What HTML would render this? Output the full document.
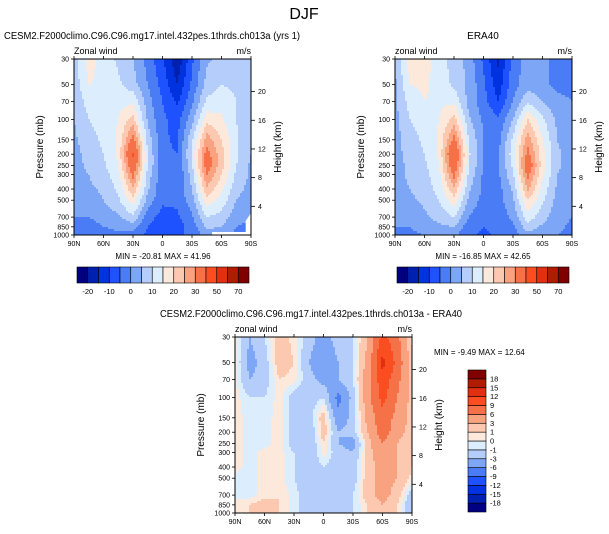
<!DOCTYPE html>
<html><head><meta charset="utf-8">
<style>
html,body{margin:0;padding:0;background:#fff;}
svg{display:block;font-family:"Liberation Sans",sans-serif;}
</style></head>
<body>
<svg id="fig" width="609" height="534" viewBox="0 0 609 534" xmlns="http://www.w3.org/2000/svg">
<text x="304" y="19" font-size="16" text-anchor="middle">DJF</text>
<g id="root"></g>
</svg>
<script>
// ---- data ----
const latLabels = ["90N","75N","60N","45N","30N","15N","0","15S","30S","45S","60S","75S","90S"];
const pressureLevels = [30,50,70,100,150,200,250,300,400,500,700,850,1000];
const pressureTicks = [30,50,70,100,150,200,250,300,400,500,700,850,1000];
const latTicks = ["90N","60N","30N","0","30S","60S","90S"];
const heightTicks = [4,8,12,16,20];
const windLevels = [-20,-15,-10,-5,0,5,10,15,20,25,30,40,50,60,70];
const windLevelLabels = ["-20","-10","0","10","20","30","50","70"];
const diffLevels = [-18,-15,-12,-9,-6,-3,-1,0,1,3,6,9,12,15,18];
const modelWind = [
[8,17,13,9,5,-2,-9,-19,-6,4,7,7,6],
[7,15,14,11,7,0,-7,-15,-4,7,10,9,7],
[6,12,14,13,14,2,-5,-11,-1,11,13,10,7],
[5,10,12,15,22,4,-4,-7,3,18,16,10,6],
[4,8,11,16,33,8,-4,-6,9,28,20,11,5],
[3,7,10,16,41,10,-4,-5,11,33,22,11,5],
[3,6,9,15,36,10,-4,-5,9,34,22,10,4],
[3,5,8,13,32,8,-4,-5,7,30,20,9,4],
[2,4,6,11,24,6,-4,-4,5,24,16,7,3],
[1,2,5,9,18,3,-4,-4,3,18,13,5,2],
[0,0,2,4,9,-3,-7,-6,-1,10,8,2,0],
[-1,-2,0,1,2,-5,-8,-7,-3,6,5,0,-1],
[-2,-2,-2,-1,-2,-6,-8,-6,-4,2,2,-1,-2]];
const eraWind = [
[5,18,17,12,8,3,-6,-16,-3,2,1,-1,-1],
[4,15,16,13,9,4,-4,-13,-2,3,1,-1,-1],
[4,12,15,14,14,3,-3,-10,0,9,5,1,0],
[3,10,12,15,22,6,-1,-4,5,20,11,4,1],
[3,8,11,16,32,10,0,-2,11,28,15,5,2],
[3,7,10,16,40,11,0,-1,13,32,17,6,2],
[3,6,9,15,36,10,0,-1,11,36,17,6,2],
[3,6,8,14,32,9,-1,-1,9,32,16,5,2],
[3,5,7,12,24,6,-1,-2,6,26,13,4,2],
[2,4,6,10,18,4,-2,-2,4,20,11,3,1],
[1,2,4,7,10,0,-4,-3,1,13,7,2,0],
[0,0,2,4,5,-3,-5,-4,-1,8,4,1,-1],
[-2,-1,0,1,1,-4,-6,-4,-3,3,2,0,-1]];
const diffWind = [
[0.5,-3,-1,2,0.5,-2,-4,-2,-1,3,10,7,0.5],
[0.5,-4,-2,2,1,-3,-5,-3,-1,4,13,8,2],
[0.5,-3,-2,1,0.5,-2,-4,-3,-1,5,11,7,2],
[0.5,-1,-1,0.5,-2,-2,-1,-7,-2,5,10,6,2],
[0.5,-0.5,-0.5,0.5,-2,-2,2,-5,-2,4,8,5,2],
[0.5,-0.5,-0.5,0.5,-2,-3,2,-3,-2,3,8,4,2],
[0.5,-0.5,-0.5,0.5,-2,-3,1,-3,-4,2,6,3,1],
[0.5,-0.5,0.5,0.5,-1,-3,0.5,-2,-3,2,5,3,1],
[0.5,-0.5,0.5,0.5,-1,-2,-1,-2,-2,2,4,3,1],
[-0.5,-0.5,0.5,0.5,-1,-2,-2,-2,-2,2,4,3,0.5],
[-0.5,-0.5,0.5,1,-0.5,-2,-2,-2,-1,2,4,2,-2],
[0.5,1,2,1,-0.5,-2,-2,-2,-1,1,3,1,-3],
[0.5,1,2,1,-0.5,-2,-2,-1,-1,1,3,1,-3]];

const palette = ['#000080','#0020b0','#0032e0','#1f52ff','#4a7cf5','#7ea6f7','#b5cdfa','#dceefd','#fde8dc','#fcc8b0','#f9a280','#f57248','#fa4e20','#e03010','#b01c00','#800000'];
const NS="http://www.w3.org/2000/svg";
const root=document.getElementById('root');
function el(tag,attrs,parent,text){const e=document.createElementNS(NS,tag);for(const k in attrs)e.setAttribute(k,attrs[k]);if(text!==undefined)e.textContent=text;(parent||root).appendChild(e);return e;}
const H=7;
function colorIdx(v,levels){let i=0;while(i<levels.length&&v>=levels[i])i++;return i;}
function panel(cfg){
  const {x0,y0,w,h,data,levels,name}=cfg;
  const g=el('g',{});
  
  
  const lp0=Math.log(1000),lpT=Math.log(30);
  const yOfP=p=>y0+h*(Math.log(p)-lpT)/(lp0-lpT);
  const lpl=pressureLevels.map(p=>Math.log(p));
  function sample(px,py){
    const fi=Math.max(0,Math.min(latLabels.length-1,(px-x0)/w*(latLabels.length-1)));
    const lp=lpT+(py-y0)/h*(lp0-lpT);
    let j=0;while(j<lpl.length-2&&lp>lpl[j+1])j++;
    let fj=j+(lp-lpl[j])/(lpl[j+1]-lpl[j]);
    fj=Math.max(0,Math.min(lpl.length-1,fj));
    const i0=Math.min(latLabels.length-2,Math.floor(fi)),ti=fi-i0;
    const j0=Math.min(lpl.length-2,Math.floor(fj)),tj=fj-j0;
    const a=data[j0][i0],b=data[j0][i0+1],c=data[j0+1][i0],d=data[j0+1][i0+1];
    return (a*(1-ti)+b*ti)*(1-tj)+(c*(1-ti)+d*ti)*tj;
  }
  const cells=el('g',{'shape-rendering':'crispEdges'},g);
  const s=2;
  for(let y=0;y<h;y+=s){
    let runStart=0,runC=-1;
    for(let x=0;;x+=s){
      const end=x>=w;
      const c=end?-2:colorIdx(sample(x0+x+1,y0+y+1),levels);
      if(c!==runC){
        if(runC>=0){const r=el('rect',{x:x0+runStart,y:y0+y,width:Math.min(x,w)-runStart,height:Math.min(s,h-y),fill:palette[runC]},cells);
          
          }
        runStart=x;runC=c;
      }
      if(end)break;
    }
  }
  if(cfg.mask){
    const m=el('path',{d:`M${x0+w*0.78} ${y0+h} L${x0+w*0.78} ${y0+h-3} L${x0+w*0.97} ${y0+h-3} L${x0+w*0.97} ${y0+h-14} L${x0+w} ${y0+h-22} L${x0+w} ${y0+h} Z`,fill:'#fff'},g);
    
    
  }
  el('rect',{x:x0,y:y0,width:w,height:h,fill:'none',stroke:'#000','stroke-width':1},g);
  pressureTicks.forEach(p=>{const y=yOfP(p);
    el('line',{x1:x0-3,x2:x0,y1:y,y2:y,stroke:'#000','stroke-width':0.8},g);
    const t=el('text',{x:x0-5,y:y+2.5,'font-size':7,'text-anchor':'end'},g,String(p));
    
    });
  latTicks.forEach((lab,k)=>{const x=x0+w*k/(latTicks.length-1);
    el('line',{x1:x,x2:x,y1:y0+h,y2:y0+h+3,stroke:'#000','stroke-width':0.8},g);
    el('line',{x1:x,x2:x,y1:y0,y2:y0-3,stroke:'#000','stroke-width':0.8},g);
    const t=el('text',{x:x,y:y0+h+11,'font-size':7,'text-anchor':'middle'},g,lab);
    
    });
  heightTicks.forEach(z=>{const y=yOfP(1000*Math.exp(-z/H));
    el('line',{x1:x0+w,x2:x0+w+4,y1:y,y2:y,stroke:'#000','stroke-width':0.8},g);
    const t=el('text',{x:x0+w+7,y:y+2.5,'font-size':7},g,String(z));
    
    });
  const yl=el('text',{x:0,y:0,'font-size':10,'text-anchor':'middle',transform:`translate(${x0-31},${y0+h/2}) rotate(-90)`},g,'Pressure (mb)');
  
  
  const yr=el('text',{x:0,y:0,'font-size':10,'text-anchor':'middle',transform:`translate(${x0+w+30},${y0+h/2}) rotate(-90)`},g,'Height (km)');
  
  
  const lt=el('text',{x:x0,y:y0-5,'font-size':9},g,cfg.left);
  
  
  const rt=el('text',{x:x0+w,y:y0-5,'font-size':9,'text-anchor':'end'},g,'m/s');
  
  
}
function hbar(x0,y0,w,h,name,minmax,cx){
  const g=el('g',{});
  
  
  const bw=w/palette.length;
  palette.forEach((c,i)=>{const r=el('rect',{x:x0+i*bw,y:y0,width:bw,height:h,fill:c,stroke:'#000','stroke-width':0.6},g);
    
    });
  windLevelLabels.forEach(lab=>{const k=windLevels.indexOf(Number(lab));
    const t=el('text',{x:x0+(k+1)*bw,y:y0+h+11,'font-size':7.5,'text-anchor':'middle'},g,lab);
    
    });
  const m=el('text',{x:cx,y:y0-8,'font-size':8,'text-anchor':'middle'},g,minmax);
  
  
}
let t=el('text',{x:4,y:39,'font-size':10,textLength:296,lengthAdjust:'spacingAndGlyphs'},root,'CESM2.F2000climo.C96.C96.mg17.intel.432pes.1thrds.ch013a (yrs 1)');


t=el('text',{x:483,y:39,'font-size':10,'text-anchor':'middle'},root,'ERA40');


t=el('text',{x:160,y:317,'font-size':10,textLength:302,lengthAdjust:'spacingAndGlyphs'},root,'CESM2.F2000climo.C96.C96.mg17.intel.432pes.1thrds.ch013a - ERA40');



panel({x0:74,y0:59,w:177,h:176,data:modelWind,levels:windLevels,name:'model-panel',left:'Zonal wind',mask:true});
panel({x0:395,y0:59,w:177,h:176,data:eraWind,levels:windLevels,name:'era40-panel',left:'zonal wind'});
panel({x0:235,y0:337,w:177,h:176,data:diffWind,levels:diffLevels,name:'difference-panel',left:'zonal wind'});
hbar(77,267,172,16,'model-colorbar','MIN = -20.81  MAX =  41.96',163);
hbar(397,267,172,16,'era40-colorbar','MIN = -16.85  MAX =  42.65',483);
(function(){
  const g=el('g',{});
  
  
  const x0=468,y0=370,w=18,h=142,bh=h/palette.length;
  palette.forEach((c,i)=>{const r=el('rect',{x:x0,y:y0+h-(i+1)*bh,width:w,height:bh,fill:c,stroke:'#000','stroke-width':0.6},g);
    
    });
  diffLevels.forEach((v,k)=>{const y=y0+h-(k+1)*bh;
    const tt=el('text',{x:x0+w+4,y:y+2.5,'font-size':7.5},g,String(v));
    
    });
  const m=el('text',{x:434,y:355,'font-size':8},g,'MIN =  -9.49  MAX =  12.64');
  
  
})();
</script>
</body></html>
